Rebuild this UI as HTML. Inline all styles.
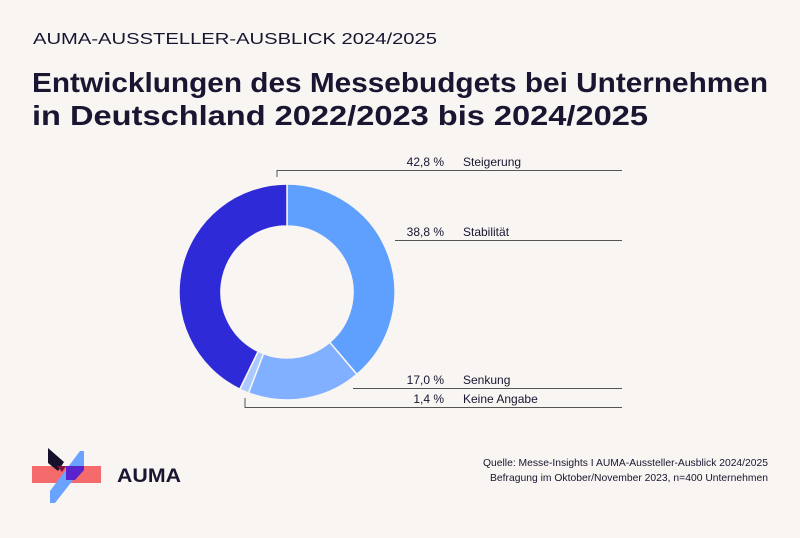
<!DOCTYPE html>
<html><head><meta charset="utf-8"><style>
body{margin:0;background:#f8f5f2;}
svg text{font-family:"Liberation Sans",sans-serif;fill:#1a1530;}
</style></head><body>
<svg width="800" height="533" viewBox="0 0 800 533" xmlns="http://www.w3.org/2000/svg">
<rect width="800" height="533" fill="#f8f5f2"/>
<text x="33" y="44" font-size="16" textLength="404" lengthAdjust="spacingAndGlyphs">AUMA-AUSSTELLER-AUSBLICK 2024/2025</text>
<text x="32" y="92" font-size="28" font-weight="bold" textLength="736" lengthAdjust="spacingAndGlyphs">Entwicklungen des Messebudgets bei Unternehmen</text>
<text x="32" y="125" font-size="28" font-weight="bold" textLength="616" lengthAdjust="spacingAndGlyphs">in Deutschland 2022/2023 bis 2024/2025</text>
<g id="donut"></g>
<g stroke="#555" stroke-width="1" fill="none">
<polyline points="277,177 277,170.5 622,170.5"/>
<line x1="395" y1="240.5" x2="622" y2="240.5"/>
<line x1="353" y1="388.5" x2="622" y2="388.5"/>
<polyline points="245,398 245,407.5 622,407.5"/>
</g>
<g font-size="12">
<text x="444" y="166" text-anchor="end">42,8 %</text><text x="463" y="166">Steigerung</text>
<text x="444" y="236" text-anchor="end">38,8 %</text><text x="463" y="236">Stabilität</text>
<text x="444" y="384" text-anchor="end">17,0 %</text><text x="463" y="384">Senkung</text>
<text x="444" y="403" text-anchor="end">1,4 %</text><text x="463" y="403">Keine Angabe</text>
</g>
<g font-size="10.5">
<text x="768" y="466" text-anchor="end" textLength="285" lengthAdjust="spacingAndGlyphs">Quelle: Messe-Insights I AUMA-Aussteller-Ausblick 2024/2025</text>
<text x="768" y="481" text-anchor="end" textLength="278" lengthAdjust="spacingAndGlyphs">Befragung im Oktober/November 2023, n=400 Unternehmen</text>
</g>
<rect x="32" y="466" width="69" height="17" fill="#f56b6b"/>
<polygon points="50,491 80,451 84,451 84,466 55,503 50,503" fill="#6aa3ff"/>
<polygon points="48,448 64,462 58,471 48,463" fill="#16102a"/>
<polygon points="57,466 66,466 62,472" fill="#8a1040"/>
<polygon points="66,466 84,466 84,470 75,480 66,480" fill="#5a22cc"/>
<text x="117" y="482" font-size="19" font-weight="bold" textLength="64" lengthAdjust="spacingAndGlyphs">AUMA</text>
</svg>
<script>
var cx=287,cy=292,R=108,r=66,vals=[[38.8,"#5fa0ff"],[17.0,"#80b0ff"],[1.4,"#a9c9ff"],[42.8,"#2f2ad8"]];
var a=0,g=document.getElementById("donut"),s="";
function p(rad,ang){var t=(ang-90)*Math.PI/180;return (cx+rad*Math.cos(t)).toFixed(2)+","+(cy+rad*Math.sin(t)).toFixed(2);}
vals.forEach(function(v){var b=a+v[0]*3.6,l=(b-a)>180?1:0;
s+='<path d="M'+p(R,a)+' A'+R+','+R+' 0 '+l+' 1 '+p(R,b)+' L'+p(r,b)+' A'+r+','+r+' 0 '+l+' 0 '+p(r,a)+' Z" fill="'+v[1]+'" stroke="#f8f5f2" stroke-width="1.5"/>';a=b;});
g.innerHTML=s;
</script>
</body></html>
